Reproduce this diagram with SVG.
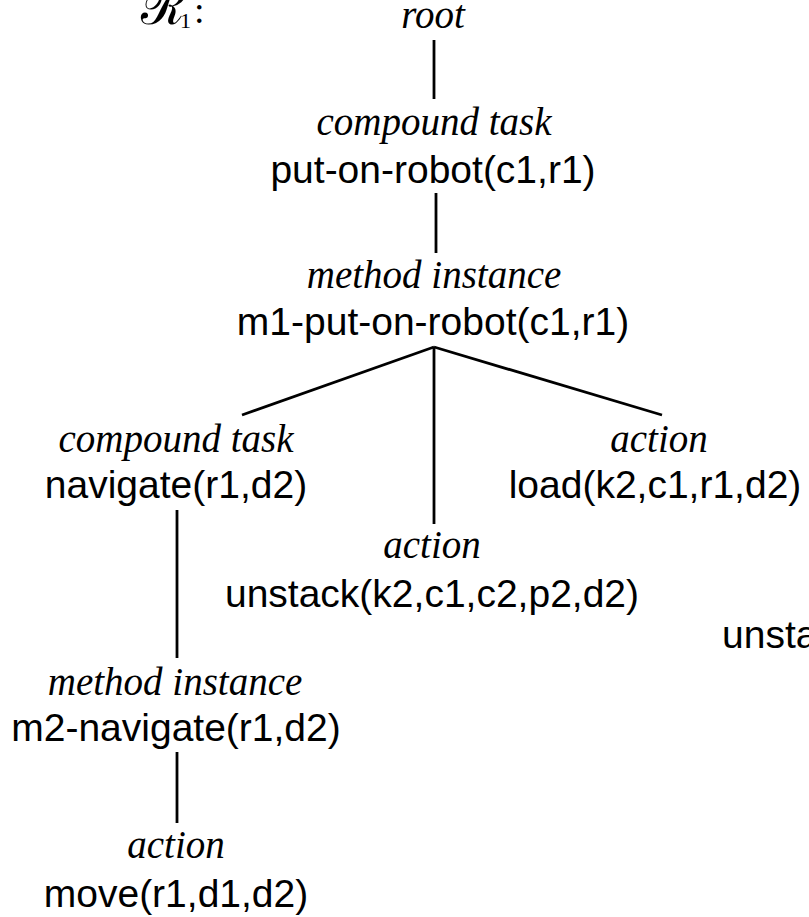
<svg xmlns="http://www.w3.org/2000/svg" width="809" height="917" viewBox="0 0 809 917">
  <style>
    .kind { font-family: "Liberation Serif", "Times New Roman", serif; font-style: italic; font-size: 39px; fill: #000; text-anchor: middle; }
    .name { font-family: "Liberation Sans", Arial, Helvetica, sans-serif; font-size: 39px; fill: #000; text-anchor: middle; }
    .edge { stroke: #000; stroke-width: 2.8; fill: none; stroke-linecap: butt; }
  </style>
  <rect width="809" height="917" fill="#fff"/>

  <!-- tree label -->
  <g id="label">
    <text font-family="DejaVu Serif, 'Liberation Serif', serif" fill="#000"><tspan x="141" y="24" font-size="50">ℛ</tspan><tspan x="180" y="28" font-family="'Liberation Serif', serif" font-size="22">1</tspan><tspan x="194" y="23" font-family="'Liberation Serif', serif" font-size="38">:</tspan></text>
  </g>

  <!-- connectors -->
  <g id="connectors">
    <line class="edge" x1="434" y1="40" x2="434" y2="99"/>
    <line class="edge" x1="436" y1="193" x2="436" y2="253"/>
    <line class="edge" x1="434" y1="347" x2="242" y2="415"/>
    <line class="edge" x1="434" y1="347" x2="434" y2="524"/>
    <line class="edge" x1="434" y1="347" x2="662" y2="415"/>
    <line class="edge" x1="177" y1="510" x2="177" y2="658"/>
    <line class="edge" x1="177" y1="752" x2="177" y2="823"/>
  </g>

  <g id="root">
    <text class="kind" x="433" y="28">root</text>
  </g>

  <g id="put-on-robot">
    <text class="kind" x="434" y="135">compound task</text>
    <text class="name" x="433" y="183">put-on-robot(c1,r1)</text>
  </g>

  <g id="m1-put-on-robot">
    <text class="kind" x="434" y="288">method instance</text>
    <text class="name" x="433" y="335">m1-put-on-robot(c1,r1)</text>
  </g>

  <g id="navigate">
    <text class="kind" x="176" y="452">compound task</text>
    <text class="name" x="176" y="498">navigate(r1,d2)</text>
  </g>

  <g id="load">
    <text class="kind" x="659" y="452">action</text>
    <text class="name" x="655" y="498">load(k2,c1,r1,d2)</text>
  </g>

  <g id="unstack">
    <text class="kind" x="432" y="558">action</text>
    <text class="name" x="432" y="607">unstack(k2,c1,c2,p2,d2)</text>
  </g>

  <g id="unstack-right">
    <text class="name" x="722" y="648" style="text-anchor:start">unsta</text>
  </g>

  <g id="m2-navigate">
    <text class="kind" x="175" y="695">method instance</text>
    <text class="name" x="176" y="741">m2-navigate(r1,d2)</text>
  </g>

  <g id="move">
    <text class="kind" x="176" y="858">action</text>
    <text class="name" x="176" y="907">move(r1,d1,d2)</text>
  </g>
</svg>
